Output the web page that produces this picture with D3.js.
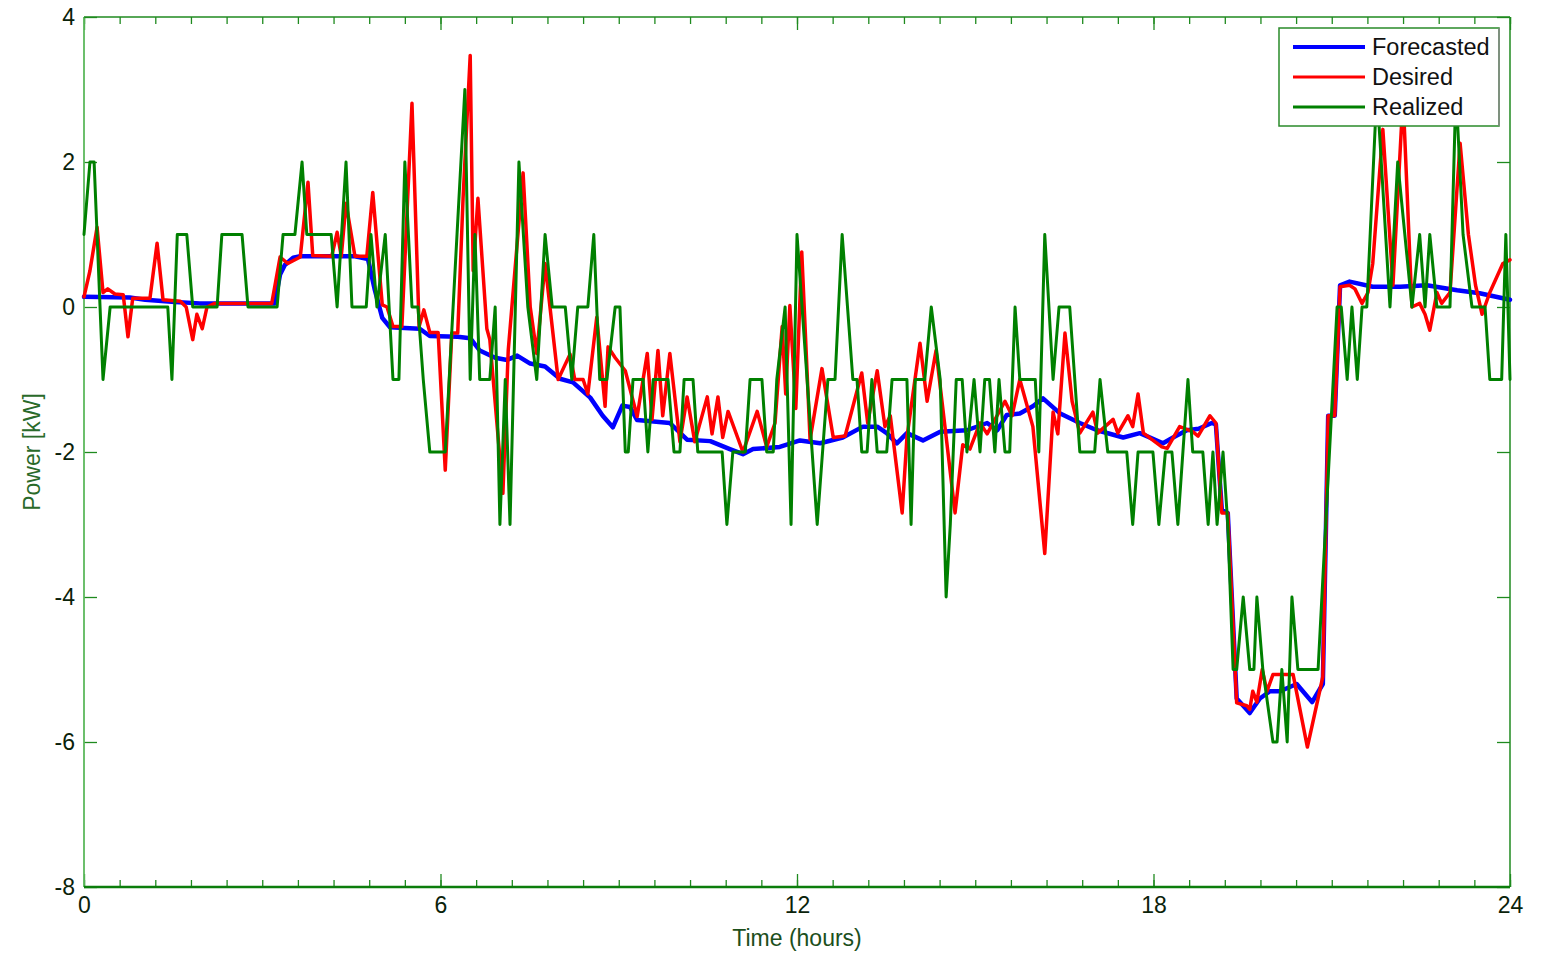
<!DOCTYPE html>
<html>
<head>
<meta charset="utf-8">
<script src="https://cdn.jsdelivr.net/npm/d3@7"></script>
<style>
  html, body { margin: 0; padding: 0; background: #ffffff; }
  svg { display: block; }
  text { font-family: "Liberation Sans", Arial, sans-serif; }
</style>
</head>
<body>
<svg id="chart" width="1547" height="955"></svg>
<script>
// Power profile over one day: forecasted, desired and realized power (kW)

const forecastHours = [0.00,0.77,1.03,1.53,1.95,3.21,3.30,3.38,3.52,3.64,4.56,4.78,4.89,5.02,5.15,5.40,5.65,5.82,6.29,6.50,6.66,6.92,7.12,7.29,7.51,7.76,8.01,8.23,8.52,8.73,8.90,9.06,9.19,9.31,9.86,10.15,10.54,10.87,11.09,11.26,11.71,12.05,12.39,12.77,13.11,13.35,13.51,13.68,13.85,14.12,14.41,14.86,15.20,15.37,15.53,15.75,15.97,16.14,16.43,16.76,17.05,17.49,17.77,18.16,18.33,18.56,18.76,18.98,19.05,19.15,19.25,19.40,19.62,19.79,19.96,20.13,20.41,20.67,20.85,20.94,21.05,21.14,21.30,21.69,22.15,22.60,23.11,23.49,23.88,24.00];
const forecastKW    = [0.14,0.13,0.10,0.07,0.05,0.05,0.45,0.58,0.68,0.70,0.70,0.66,0.25,-0.15,-0.28,-0.29,-0.30,-0.40,-0.41,-0.43,-0.60,-0.70,-0.73,-0.67,-0.78,-0.82,-0.99,-1.04,-1.25,-1.50,-1.66,-1.36,-1.38,-1.56,-1.60,-1.83,-1.85,-1.96,-2.03,-1.96,-1.93,-1.84,-1.88,-1.80,-1.65,-1.65,-1.74,-1.88,-1.74,-1.84,-1.72,-1.70,-1.60,-1.70,-1.49,-1.47,-1.37,-1.26,-1.47,-1.60,-1.70,-1.80,-1.74,-1.88,-1.80,-1.70,-1.68,-1.60,-1.62,-2.80,-2.84,-5.40,-5.60,-5.40,-5.30,-5.30,-5.20,-5.45,-5.20,-1.50,-1.50,0.30,0.35,0.28,0.28,0.30,0.23,0.19,0.12,0.10];

const desiredHours = [0.00,0.10,0.22,0.32,0.40,0.52,0.66,0.74,0.82,1.11,1.23,1.33,1.62,1.72,1.83,1.90,1.99,2.07,2.20,3.16,3.30,3.43,3.64,3.77,3.85,4.17,4.26,4.33,4.41,4.56,4.76,4.86,4.95,5.02,5.10,5.20,5.35,5.52,5.64,5.72,5.82,5.96,6.08,6.19,6.29,6.38,6.50,6.55,6.63,6.78,6.83,7.05,7.14,7.39,7.51,7.62,7.76,7.98,8.18,8.26,8.40,8.48,8.63,8.77,8.82,8.94,9.11,9.31,9.48,9.56,9.66,9.74,9.86,10.03,10.15,10.28,10.49,10.57,10.67,10.75,10.84,11.09,11.33,11.49,11.63,11.75,11.81,11.88,11.98,12.08,12.22,12.42,12.61,12.81,13.09,13.19,13.35,13.48,13.57,13.77,13.85,14.07,14.19,14.34,14.66,14.79,14.91,15.08,15.20,15.50,15.62,15.75,15.97,16.17,16.31,16.39,16.51,16.63,16.76,16.98,17.06,17.32,17.40,17.57,17.65,17.74,17.83,18.14,18.23,18.44,18.66,18.75,18.95,19.05,19.15,19.25,19.40,19.57,19.62,19.67,19.74,19.83,19.91,20.01,20.35,20.59,20.85,20.94,21.05,21.14,21.30,21.39,21.51,21.61,21.69,21.86,22.03,22.20,22.35,22.48,22.57,22.65,22.77,22.85,22.99,23.16,23.30,23.42,23.53,23.66,23.88,24.00];
const desiredKW    = [0.14,0.50,1.10,0.20,0.25,0.18,0.17,-0.41,0.12,0.12,0.88,0.10,0.08,0.00,-0.45,-0.10,-0.30,0.00,0.05,0.05,0.69,0.60,0.69,1.72,0.71,0.70,1.03,0.70,1.43,0.70,0.70,1.58,0.70,0.03,0.00,-0.27,-0.27,2.81,-0.27,-0.04,-0.35,-0.35,-2.25,-0.36,-0.36,1.50,3.47,0.50,1.50,-0.30,-0.45,-2.57,-0.60,1.85,0.00,-0.64,0.60,-1.00,-0.65,-1.00,-1.00,-1.20,-0.14,-1.37,-0.55,-0.70,-0.88,-1.51,-0.64,-1.55,-0.60,-1.50,-0.64,-1.86,-1.24,-1.86,-1.24,-1.75,-1.24,-1.80,-1.44,-2.00,-1.44,-1.93,-1.60,-0.27,-1.20,0.02,-1.40,0.76,-1.83,-0.85,-1.80,-1.78,-0.91,-1.60,-0.88,-1.65,-1.50,-2.84,-1.80,-0.50,-1.30,-0.60,-2.84,-1.90,-1.96,-1.60,-1.75,-1.30,-1.50,-1.00,-1.65,-3.40,-1.45,-1.75,-0.36,-1.30,-1.74,-1.45,-1.74,-1.55,-1.74,-1.50,-1.65,-1.20,-1.74,-1.93,-1.95,-1.65,-1.72,-1.78,-1.50,-1.60,-2.84,-2.84,-5.46,-5.50,-5.55,-5.30,-5.45,-5.00,-5.30,-5.07,-5.07,-6.07,-5.10,-1.50,-1.50,0.28,0.30,0.25,0.05,0.20,0.60,2.45,0.30,2.90,0.00,0.05,-0.10,-0.32,0.20,0.05,0.20,2.26,1.00,0.30,-0.10,0.20,0.60,0.65];

const realizedHours = [0.00,0.10,0.17,0.32,0.44,1.41,1.48,1.57,1.73,1.83,2.24,2.32,2.66,2.76,3.25,3.35,3.55,3.67,3.75,4.16,4.26,4.41,4.51,4.75,4.83,4.93,5.07,5.20,5.30,5.40,5.52,5.62,5.71,5.82,6.08,6.41,6.50,6.58,6.66,6.83,6.92,7.00,7.09,7.17,7.32,7.47,7.62,7.76,7.88,8.10,8.21,8.31,8.48,8.58,8.68,8.80,8.94,9.02,9.11,9.16,9.24,9.41,9.49,9.58,9.83,9.93,10.03,10.10,10.25,10.33,10.74,10.82,10.92,11.13,11.21,11.41,11.49,11.60,11.66,11.80,11.90,12.00,12.34,12.52,12.64,12.76,12.94,13.01,13.09,13.18,13.26,13.35,13.51,13.60,13.85,13.92,13.99,14.15,14.26,14.41,14.51,14.58,14.68,14.78,14.86,14.98,15.08,15.16,15.24,15.33,15.40,15.50,15.58,15.67,15.75,16.01,16.07,16.17,16.31,16.41,16.59,16.76,17.01,17.10,17.23,17.55,17.65,17.74,17.99,18.09,18.20,18.31,18.41,18.58,18.66,18.83,18.92,19.00,19.07,19.17,19.25,19.34,19.40,19.51,19.62,19.69,19.74,19.84,20.01,20.08,20.16,20.25,20.33,20.43,20.77,21.09,21.16,21.26,21.34,21.43,21.51,21.59,21.76,21.98,22.11,22.35,22.48,22.57,22.65,22.77,22.99,23.09,23.21,23.36,23.58,23.66,23.86,23.93,24.00];
const realizedKW    = [1,2,2,-1,0,0,-1,1,1,0,0,1,1,0,0,1,1,2,1,1,0,2,0,0,1,0,1,-1,-1,2,0,0,-1,-2,-2,3,-1,1,-1,-1,0,-3,-1,-3,2,0,-1,1,0,0,-1,0,0,1,-1,-1,0,0,-2,-2,-1,-1,-2,-1,-1,-2,-2,-1,-1,-2,-2,-3,-2,-2,-1,-1,-2,-2,-1,0,-3,1,-3,-1,-1,1,-1,-1,-2,-2,-1,-2,-2,-1,-1,-3,-1,-1,0,-1,-4,-3,-1,-1,-2,-1,-2,-1,-1,-2,-1,-2,-2,0,-1,-1,-2,1,-1,0,0,-2,-2,-1,-2,-2,-3,-2,-2,-3,-2,-2,-3,-1,-2,-2,-3,-2,-3,-2,-3,-5,-5,-4,-5,-5,-4,-5,-6,-6,-5,-6,-4,-5,-5,0,0,-1,0,-1,0,0,3,0,2,0,1,0,1,0,0,3,1,0,0,-1,-1,1,-1];

const xMajorTicks = [0, 6, 12, 18, 24];
const xMinorTicks = d3.range(0, 24.001, 0.6);
const yTicks = [-8, -6, -4, -2, 0, 2, 4];

const seriesNames  = ["Forecasted", "Desired", "Realized"];
const seriesColors = ["#0000ff", "#ff0000", "#008000"];

const svg = d3.select("#chart");
const plot = { left: 84, right: 1510, top: 17, bottom: 887 };

const x = d3.scaleLinear().domain([0, 24]).range([plot.left, plot.right]);
const y = d3.scaleLinear().domain([-8, 4]).range([plot.bottom, plot.top]);

const axisColor = "#1f8a1f";
const labelColor = "#0a220a";
const plainNumber = d => String(d);

// axes with inward ticks on all four sides
function styleAxis(g) {
  g.select(".domain").remove();
  g.selectAll(".tick line").attr("stroke", axisColor).attr("stroke-width", 1.3);
  g.selectAll(".tick text")
    .attr("fill", labelColor)
    .style("font-size", "23px");
}

svg.append("g")
  .attr("transform", `translate(0,${plot.bottom})`)
  .call(d3.axisBottom(x).tickValues(xMinorTicks).tickSizeInner(-7).tickSizeOuter(0).tickFormat(""))
  .call(styleAxis);
svg.append("g")
  .attr("transform", `translate(0,${plot.bottom})`)
  .call(d3.axisBottom(x).tickValues(xMajorTicks).tickSizeInner(-13).tickSizeOuter(0).tickPadding(10).tickFormat(plainNumber))
  .call(styleAxis);
svg.append("g")
  .attr("transform", `translate(0,${plot.top})`)
  .call(d3.axisTop(x).tickValues(xMinorTicks).tickSizeInner(-7).tickSizeOuter(0).tickFormat(""))
  .call(styleAxis);
svg.append("g")
  .attr("transform", `translate(0,${plot.top})`)
  .call(d3.axisTop(x).tickValues(xMajorTicks).tickSizeInner(-13).tickSizeOuter(0).tickFormat(""))
  .call(styleAxis);
svg.append("g")
  .attr("transform", `translate(${plot.left},0)`)
  .call(d3.axisLeft(y).tickValues(yTicks).tickSizeInner(-13).tickSizeOuter(0).tickPadding(9).tickFormat(plainNumber))
  .call(styleAxis);
svg.append("g")
  .attr("transform", `translate(${plot.right},0)`)
  .call(d3.axisRight(y).tickValues(yTicks).tickSizeInner(-13).tickSizeOuter(0).tickFormat(""))
  .call(styleAxis);

// plot frame
svg.append("line").attr("x1", plot.left).attr("x2", plot.left).attr("y1", plot.top).attr("y2", plot.bottom)
  .attr("stroke", "#5cb85c").attr("stroke-width", 1.8);
svg.append("line").attr("x1", plot.right).attr("x2", plot.right).attr("y1", plot.top).attr("y2", plot.bottom)
  .attr("stroke", axisColor).attr("stroke-width", 1.5);
svg.append("line").attr("x1", plot.left).attr("x2", plot.right).attr("y1", plot.top).attr("y2", plot.top)
  .attr("stroke", axisColor).attr("stroke-width", 1.5);
svg.append("line").attr("x1", plot.left).attr("x2", plot.right).attr("y1", plot.bottom).attr("y2", plot.bottom)
  .attr("stroke", "#0b7d0b").attr("stroke-width", 2.5);

// axis titles
svg.append("text")
  .attr("x", x(12)).attr("y", 946)
  .attr("text-anchor", "middle")
  .attr("fill", "#1c4f1c")
  .style("font-size", "23px")
  .text("Time (hours)");
svg.append("text")
  .attr("transform", `translate(40,${y(-2)}) rotate(-90)`)
  .attr("text-anchor", "middle")
  .attr("fill", "#2a6a2a")
  .style("font-size", "23px")
  .text("Power [kW]");

// data lines
const line = d3.line().x(d => x(d[0])).y(d => y(d[1]));
const series = [
  { hours: forecastHours, kw: forecastKW, width: 4.5 },
  { hours: desiredHours,  kw: desiredKW,  width: 3.5 },
  { hours: realizedHours, kw: realizedKW, width: 3 }
];
series.forEach((s, i) => {
  const pts = s.hours.map((h, j) => [h, s.kw[j]]);
  svg.append("path")
    .datum(pts)
    .attr("d", line)
    .attr("fill", "none")
    .attr("stroke", seriesColors[i])
    .attr("stroke-width", s.width)
    .attr("stroke-linejoin", "round")
    .attr("stroke-linecap", "round");
});

// legend
const legend = svg.append("g").attr("transform", "translate(1279,28)");
legend.append("rect")
  .attr("width", 220).attr("height", 98)
  .attr("fill", "#ffffff")
  .attr("stroke", "#2a8a2a").attr("stroke-width", 1.5);
legend.append("line")
  .attr("x1", 220).attr("x2", 220).attr("y1", 0).attr("y2", 98)
  .attr("stroke", "#8a8a8a").attr("stroke-width", 1.5);
seriesNames.forEach((name, i) => {
  const cy = 19 + i * 30;
  legend.append("line")
    .attr("x1", 14).attr("x2", 86).attr("y1", cy).attr("y2", cy)
    .attr("stroke", seriesColors[i]).attr("stroke-width", i === 0 ? 4 : 3);
  legend.append("text")
    .attr("x", 93).attr("y", cy + 8)
    .attr("fill", "#111111")
    .style("font-size", "23.5px")
    .text(name);
});
</script>
</body>
</html>
